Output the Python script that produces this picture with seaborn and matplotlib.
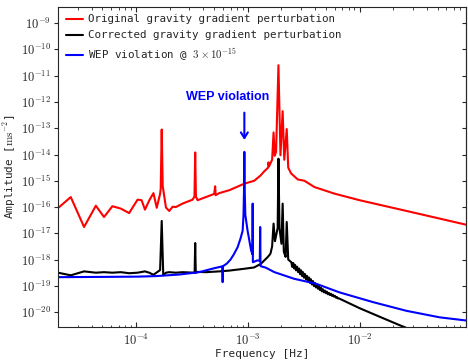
import numpy as np
import matplotlib
matplotlib.use('Agg')
import matplotlib.pyplot as plt
from matplotlib.ticker import LogLocator, NullFormatter, FuncFormatter
import seaborn as sns

# original gravity gradient perturbation (freq [Hz], log10 amplitude)
red_f = [2.0e-5, 2.6e-5, 3.42e-5, 4.36e-5, 5.16e-5, 6.13e-5, 7.3e-5, 8.66e-5, 1.03e-4, 1.12e-4,
         1.2e-4, 1.31e-4, 1.43e-4, 1.53e-4, 1.64e-4, 1.66e-4, 1.695e-4, 1.73e-4, 1.85e-4, 1.98e-4,
         2.12e-4, 2.27e-4, 2.6e-4, 3.2e-4, 3.33e-4, 3.38e-4, 3.43e-4, 3.55e-4, 4.22e-4, 5.0e-4,
         5.1e-4, 5.15e-4, 5.55e-4, 6.82e-4, 9.31e-4, 1.14e-3, 1.3e-3, 1.41e-3, 1.52e-3, 1.53e-3,
         1.55e-3, 1.65e-3, 1.70e-3, 1.74e-3, 1.79e-3, 1.88e-3, 1.96e-3, 2.05e-3, 2.12e-3, 2.23e-3,
         2.3e-3, 2.44e-3, 2.8e-3, 3.21e-3, 3.95e-3, 5.97e-3, 1.0e-2, 2.29e-2, 5.22e-2, 8.93e-2]
red_a = [-16.04, -15.62, -16.76, -15.95, -16.38, -15.97, -16.06, -16.23, -15.72, -15.74,
         -16.10, -15.75, -15.47, -16.03, -15.49, -15.3, -13.05, -15.2, -16.02, -16.15,
         -15.99, -16.0, -15.87, -15.72, -15.6, -13.92, -15.6, -15.74, -15.62, -15.5,
         -15.21, -15.55, -15.47, -15.36, -15.11, -15.0, -14.8, -14.63, -14.5, -14.3,
         -14.45, -14.2, -13.16, -14.05, -13.9, -10.6, -14.03, -12.35, -14.2, -13.03,
         -14.5, -14.72, -14.95, -15.0, -15.24, -15.49, -15.74, -16.09, -16.44, -16.67]

# corrected gravity gradient perturbation
blk_f = [2.0e-5, 2.6e-5, 3.42e-5, 4.36e-5, 5.16e-5, 6.13e-5, 7.3e-5, 8.66e-5, 1.03e-4, 1.2e-4,
         1.31e-4, 1.43e-4, 1.64e-4, 1.695e-4, 1.75e-4, 1.85e-4, 1.98e-4, 2.27e-4, 2.6e-4, 3.34e-4,
         3.38e-4, 3.42e-4, 3.55e-4, 4.22e-4, 5.55e-4, 6.82e-4, 9.31e-4, 1.14e-3, 1.31e-3, 1.51e-3,
         1.58e-3, 1.59e-3, 1.60e-3, 1.65e-3, 1.70e-3, 1.75e-3, 1.85e-3, 1.88e-3, 1.92e-3, 2.0e-3,
         2.05e-3, 2.1e-3, 2.18e-3, 2.23e-3, 2.3e-3,
         2.45e-3, 2.50e-3, 2.55e-3, 2.60e-3, 2.65e-3, 2.70e-3, 2.76e-3, 2.82e-3, 2.88e-3, 2.94e-3,
         3.00e-3, 3.06e-3, 3.12e-3, 3.18e-3, 3.25e-3, 3.32e-3, 3.39e-3, 3.46e-3, 3.53e-3, 3.60e-3,
         3.67e-3, 3.75e-3, 3.83e-3, 3.91e-3, 3.99e-3, 4.07e-3, 4.15e-3, 4.24e-3, 4.33e-3, 4.42e-3,
         4.51e-3, 4.60e-3, 4.70e-3, 4.80e-3, 4.90e-3, 5.00e-3, 5.10e-3, 5.21e-3, 5.32e-3, 5.43e-3,
         5.54e-3, 5.66e-3, 5.78e-3, 5.90e-3, 6.02e-3, 6.15e-3, 6.28e-3, 6.41e-3, 6.55e-3,
         1.0e-2, 1.5e-2, 2.29e-2, 3.0e-2, 5.0e-2, 8.93e-2]
blk_a = [-18.5, -18.6, -18.45, -18.5, -18.48, -18.5, -18.48, -18.52, -18.5, -18.45,
         -18.5, -18.58, -18.4, -16.53, -18.6, -18.5, -18.48, -18.5, -18.48, -18.5,
         -17.37, -18.5, -18.47, -18.48, -18.45, -18.42, -18.35, -18.3, -18.16, -17.9,
         -17.8, -17.78, -17.75, -17.5, -16.63, -17.3, -16.8, -14.16, -16.8, -17.4,
         -15.87, -17.7, -17.9, -16.57, -18.0,
         -18.10, -18.28, -18.13, -18.34, -18.20, -18.41, -18.27, -18.48, -18.34, -18.56,
         -18.41, -18.63, -18.48, -18.69, -18.55, -18.76, -18.62, -18.83, -18.68, -18.89,
         -18.75, -18.95, -18.82, -19.01, -18.89, -19.06, -18.95, -19.11, -19.01, -19.16,
         -19.07, -19.21, -19.13, -19.25, -19.18, -19.28, -19.22, -19.32, -19.27, -19.35,
         -19.30, -19.38, -19.34, -19.41, -19.38, -19.45, -19.43, -19.48, -19.48,
         -19.85, -20.17, -20.5, -20.7, -21.1, -21.55]

# WEP violation signal
blu_f = [2.0e-5, 5.0e-5, 1.03e-4, 1.5e-4, 2.43e-4, 3.67e-4, 5.0e-4, 5.9e-4, 5.95e-4, 6.0e-4,
         6.5e-4, 7.0e-4, 7.5e-4, 8.1e-4, 8.6e-4, 8.99e-4, 9.15e-4, 9.25e-4, 9.31e-4, 9.37e-4,
         9.5e-4, 9.95e-4, 1.07e-3, 1.10e-3, 1.105e-3, 1.11e-3, 1.22e-3, 1.28e-3, 1.29e-3, 1.30e-3,
         1.45e-3, 1.73e-3, 1.91e-3, 2.59e-3, 4.08e-3, 6.62e-3, 1.32e-2, 2.62e-2, 5.22e-2, 9.0e-2]
blu_a = [-18.67, -18.66, -18.65, -18.63, -18.57, -18.48, -18.33, -18.26, -18.86, -18.25,
         -18.15, -18.0, -17.8, -17.53, -17.2, -16.9, -16.3, -15.3, -13.9, -15.3,
         -16.3, -16.9, -17.65, -17.8, -15.87, -18.1, -18.03, -18.05, -16.76, -18.25,
         -18.31, -18.48, -18.54, -18.73, -18.92, -19.25, -19.62, -19.95, -20.2, -20.32]

sns.set_style('ticks')
plt.rcParams['font.family'] = ['DejaVu Sans Mono']
plt.rcParams['mathtext.fontset'] = 'cm'

fig = plt.figure(figsize=(4.68, 3.63), dpi=100)
ax = fig.add_axes([0.124, 0.099, 0.872, 0.882])
ax.set_xscale('log')
ax.set_yscale('log')

sns.lineplot(x=red_f, y=[10.0 ** v for v in red_a], ax=ax, color='red', lw=1.5,
             sort=False, estimator=None, label='Original gravity gradient perturbation')
sns.lineplot(x=blk_f, y=[10.0 ** v for v in blk_a], ax=ax, color='black', lw=1.5,
             sort=False, estimator=None, label='Corrected gravity gradient perturbation')
sns.lineplot(x=blu_f, y=[10.0 ** v for v in blu_a], ax=ax, color='blue', lw=1.5,
             sort=False, estimator=None, label=r'WEP violation @ $3\times10^{-15}$')

ax.set_xlim(2e-5, 0.09)
ax.set_ylim(10 ** -20.57, 10 ** -8.38)

pow_fmt = FuncFormatter(lambda v, pos: r'$10^{%d}$' % int(round(np.log10(v))))
ax.yaxis.set_major_locator(LogLocator(base=10, numticks=20))
ax.yaxis.set_minor_locator(LogLocator(base=10, subs=[], numticks=20))
ax.yaxis.set_major_formatter(pow_fmt)
ax.yaxis.set_minor_formatter(NullFormatter())
ax.xaxis.set_major_formatter(pow_fmt)
ax.tick_params(axis='y', which='both', direction='out', length=3, width=0.8, labelsize=9, pad=2)
ax.tick_params(axis='x', which='major', direction='in', top=True, length=3.5, width=0.8,
               labelsize=9, pad=4)
ax.tick_params(axis='x', which='minor', direction='in', top=True, length=1.8, width=0.6)

sec = ax.secondary_yaxis('right')
sec.set_yscale('log')
sec.yaxis.set_major_locator(LogLocator(base=10, numticks=20))
sec.tick_params(axis='y', which='major', direction='in', length=3, labelright=False)
sec.tick_params(axis='y', which='minor', length=0)

ax.set_xlabel('Frequency [Hz]', fontsize=8)
ax.xaxis.set_label_coords(0.5, -0.07)
ax.set_ylabel(r'Amplitude [$\mathrm{ms}^{-2}$]', fontsize=8)
ax.yaxis.set_label_coords(-0.097, 0.5)

ax.text(6.55e-4, 10 ** -11.82, 'WEP violation', color='blue', fontsize=9, fontweight='bold',
        family='Liberation Sans', ha='center', va='center')
ax.annotate('', xy=(9.31e-4, 10 ** -13.55), xytext=(9.31e-4, 10 ** -12.3),
            arrowprops=dict(arrowstyle='->,head_width=0.25,head_length=0.4', color='blue', lw=1.5))

ax.legend(loc='upper left', frameon=False, fontsize=7.8, handlelength=1.6,
          handletextpad=0.5, labelspacing=0.55, borderaxespad=0.4, borderpad=0.3)

fig.savefig('out.png', dpi=100)
